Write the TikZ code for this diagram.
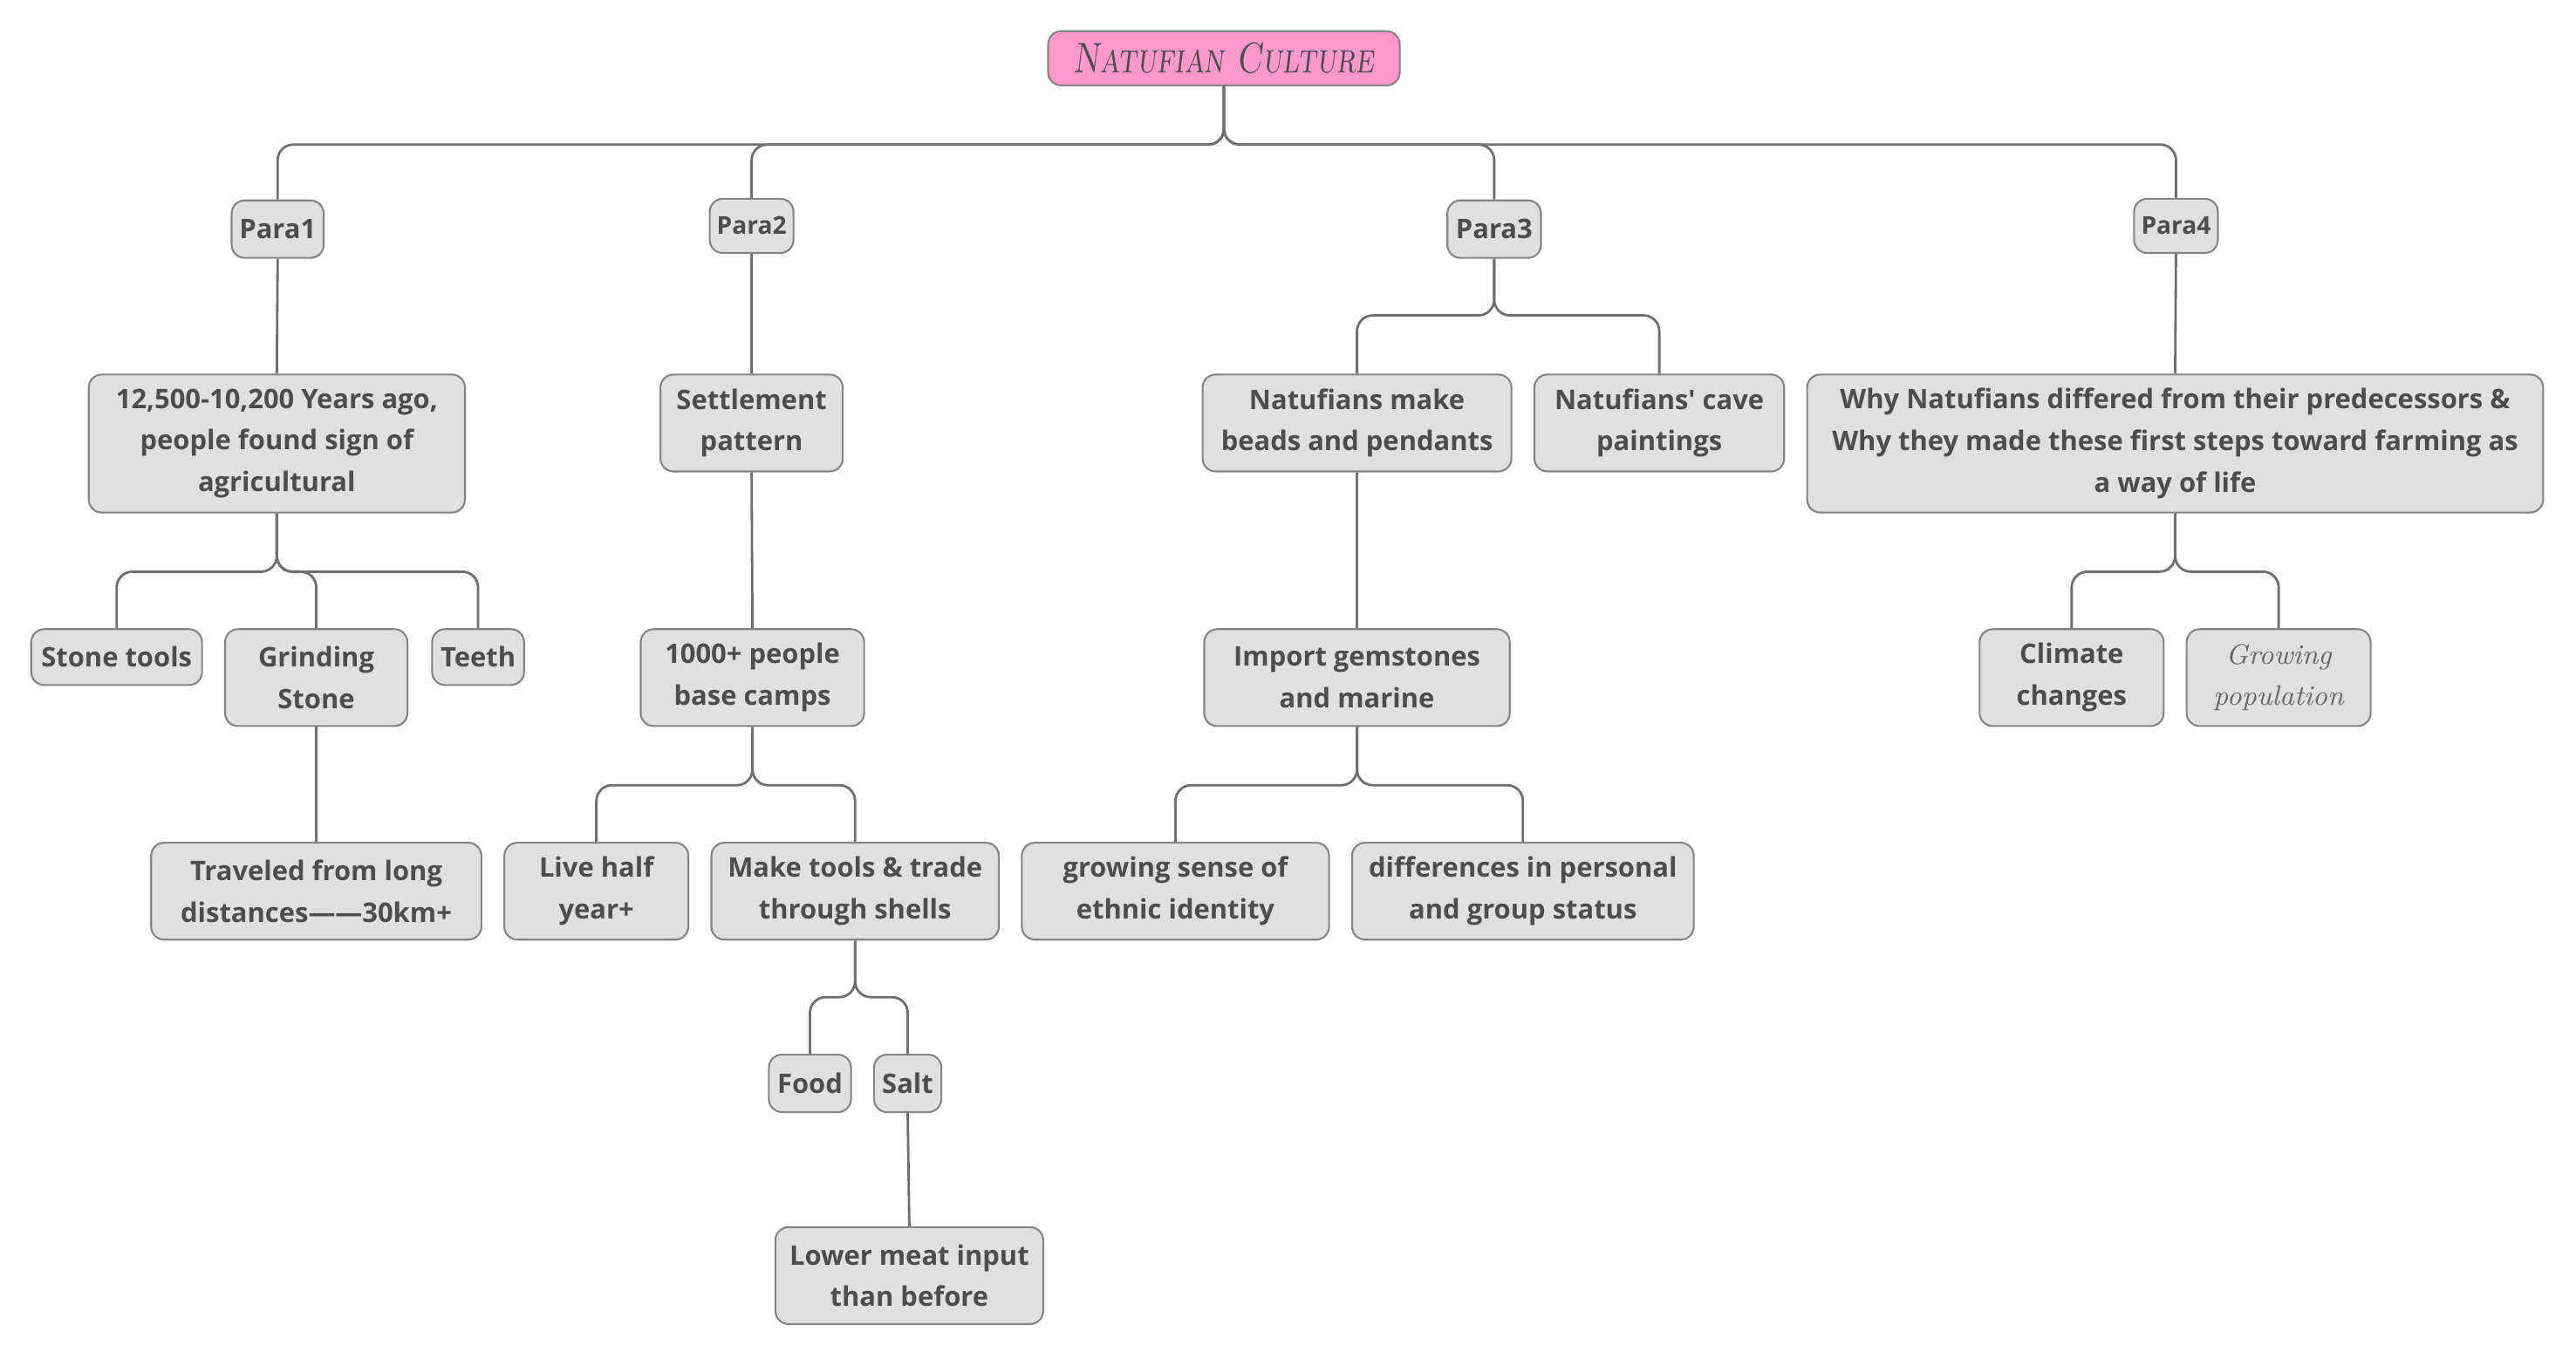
\documentclass[tikz,border=0pt]{standalone}
\usepackage{fontspec}
\usepackage{graphicx}
\newfontfamily\osans{Open Sans}
\definecolor{boxfill}{HTML}{E0E0E0}
\definecolor{boxline}{HTML}{858585}
\definecolor{txt}{HTML}{4D4D4D}
\definecolor{conncol}{HTML}{707070}
\definecolor{pinkfill}{HTML}{FF99CC}
\tikzset{
  bx/.style n args={2}{minimum width=#1*0.18833mm, minimum height=#2*0.18833mm},
  box/.style={draw=boxline, line width=0.6pt, fill=boxfill, rounded corners=1.5mm, text=txt,
    font=\osans\bfseries\fontsize{8.8}{13.6}\selectfont, align=center, inner sep=0pt},
  smallbox/.style={box, font=\osans\bfseries\fontsize{8}{12}\selectfont},
  hand/.style={box, font=\itshape\fontsize{9.2}{13.5}\selectfont, text=txt!85},
  titlebox/.style={box, fill=pinkfill, font=\scshape\itshape\fontsize{14}{16}\selectfont},
  conn/.style={draw=conncol, line width=0.8pt, rounded corners=1.8mm},
}
\begin{document}
\begin{tikzpicture}[x=0.18833mm, y=-0.18833mm]
\fill[white] (0,0) rectangle (1568,827);
\useasboundingbox (0,0) rectangle (1568,827);
% nodes
\node[titlebox, bx={214}{33}] (root) at (745,35.5) {\scalebox{0.76}[1]{Natufian Culture}};
\node[box, bx={56}{35}] (p1) at (169,139.5) {Para1};
\node[smallbox, bx={51}{33}] (p2) at (457.5,137.5) {Para2};
\node[box, bx={57}{35}] (p3) at (909.5,139.5) {Para3};
\node[smallbox, bx={51}{33}] (p4) at (1324.5,137.5) {Para4};
\node[box, bx={229}{84}] (a) at (168.5,270) {12,500-10,200 Years ago,\\people found sign of\\agricultural};
\node[box, bx={111}{59}] (sp) at (457.5,257.5) {Settlement\\pattern};
\node[box, bx={188}{59}] (bd) at (826,257.5) {Natufians make\\beads and pendants};
\node[box, bx={152}{59}] (cp) at (1010,257.5) {Natufians' cave\\paintings};
\node[box, bx={448}{84}] (why) at (1324,270) {Why Natufians differed from their predecessors \&\\Why they made these first steps toward farming as\\a way of life};
\node[box, bx={104}{34}] (st) at (71,400) {Stone tools};
\node[box, bx={111}{59}] (gs) at (192.5,412.5) {Grinding\\Stone};
\node[box, bx={56}{34}] (te) at (291,400) {Teeth};
\node[box, bx={136}{59}] (bc) at (458,412.5) {1000+ people\\base camps};
\node[box, bx={186}{59}] (ig) at (826,412.5) {Import gemstones\\and marine};
\node[box, bx={112}{59}] (cc) at (1261,412.5) {Climate\\changes};
\node[hand, bx={112}{59}] (gp) at (1387,412.5) {Growing\\population};
\node[box, bx={201}{59}] (tr) at (192.5,542.5) {Traveled from long\\distances——30km+};
\node[box, bx={112}{59}] (lh) at (363,542.5) {Live half\\year+};
\node[box, bx={175}{59}] (mt) at (520.5,542.5) {Make tools \& trade\\through shells};
\node[box, bx={187}{59}] (ge) at (715.5,542.5) {growing sense of\\ethnic identity};
\node[box, bx={208}{59}] (di) at (927,542.5) {differences in personal\\and group status};
\node[box, bx={50}{35}] (fo) at (493,659.5) {Food};
\node[box, bx={41}{35}] (sa) at (552.5,659.5) {Salt};
\node[box, bx={163}{59}] (lm) at (553.5,776.5) {Lower meat input\\than before};
% connectors
\foreach \c in {p1,p2,p3,p4} \draw[conn] (root.south) -- (root.south |- 0,88) -| (\c.north);
\draw[conn] (p1.south) -- (a.north);
\foreach \c in {st,gs,te} \draw[conn] (a.south) -- (a.south |- 0,348) -| (\c.north);
\draw[conn] (gs.south) -- (tr.north);
\draw[conn] (p2.south) -- (sp.north);
\draw[conn] (sp.south) -- (bc.north);
\foreach \c in {lh,mt} \draw[conn] (bc.south) -- (bc.south |- 0,478) -| (\c.north);
\foreach \c in {fo,sa} \draw[conn] (mt.south) -- (mt.south |- 0,607) -| (\c.north);
\draw[conn] (sa.south) -- (lm.north);
\foreach \c in {bd,cp} \draw[conn] (p3.south) -- (p3.south |- 0,192) -| (\c.north);
\draw[conn] (bd.south) -- (ig.north);
\foreach \c in {ge,di} \draw[conn] (ig.south) -- (ig.south |- 0,478) -| (\c.north);
\draw[conn] (p4.south) -- (why.north);
\foreach \c in {cc,gp} \draw[conn] (why.south) -- (why.south |- 0,348) -| (\c.north);
\end{tikzpicture}
\end{document}
